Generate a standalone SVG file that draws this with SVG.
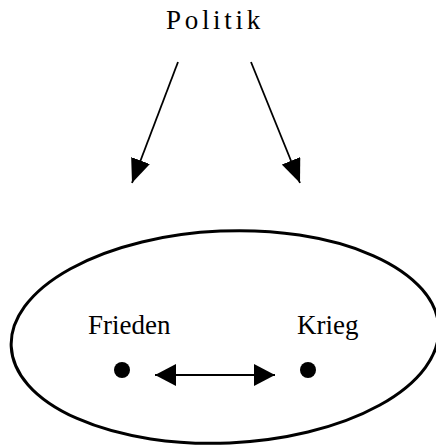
<svg xmlns="http://www.w3.org/2000/svg" width="436" height="446" viewBox="0 0 436 446">
<style>
text{font-family:"Liberation Serif","Times New Roman",serif;font-size:27px;fill:#000}
.conn{stroke:#000;stroke-width:1.8;fill:none}
</style>
<defs>
<marker id="ah" markerUnits="userSpaceOnUse" markerWidth="24" markerHeight="20" refX="24" refY="10" orient="auto-start-reverse" viewBox="0 0 24 20">
<path d="M0,0 L24,10 L0,20 z" fill="#000"/>
</marker>
<marker id="ah2" markerUnits="userSpaceOnUse" markerWidth="21" markerHeight="22" refX="21" refY="11" orient="auto-start-reverse" viewBox="0 0 21 22">
<path d="M0,0 L21,11 L0,22 z" fill="#000"/>
</marker>
</defs>
<rect width="436" height="446" fill="#fff"/>
<g id="politik"><text x="166" y="29" font-size="28" letter-spacing="3.7">Politik</text></g>
<g id="bereich"><ellipse cx="225" cy="337" rx="214" ry="106" transform="rotate(-2.5 225 337)" fill="none" stroke="#000" stroke-width="3"/></g>
<g id="frieden"><text x="88" y="334">Frieden</text><circle cx="122" cy="370" r="8"/></g>
<g id="krieg"><text x="297" y="334">Krieg</text><circle cx="308" cy="370" r="8"/></g>
<g id="connectors">
<line class="conn" x1="178" y1="62" x2="132" y2="183" marker-end="url(#ah)"/>
<line class="conn" x1="251" y1="62" x2="300" y2="183" marker-end="url(#ah)"/>
<line class="conn" x1="155" y1="375" x2="275" y2="375" marker-start="url(#ah2)" marker-end="url(#ah2)"/>
</g>
</svg>
